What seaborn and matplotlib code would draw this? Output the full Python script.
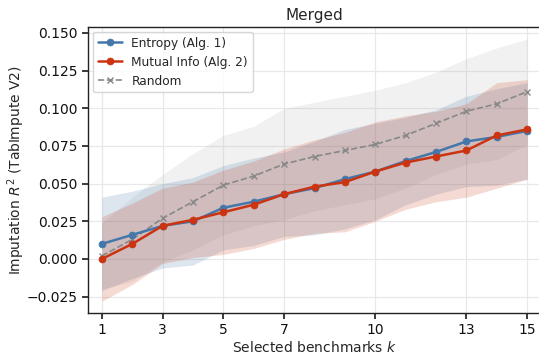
import numpy as np
import pandas as pd
import seaborn as sns
import matplotlib
matplotlib.use("Agg")
import matplotlib.pyplot as plt

# values
k = [1, 2, 3, 4, 5, 6, 7, 8, 9, 10, 11, 12, 13, 14, 15]

entropy_mean = [0.010, 0.016, 0.022, 0.025, 0.034, 0.038, 0.043, 0.047, 0.053, 0.058, 0.065, 0.071, 0.078, 0.081, 0.085]
entropy_std = [0.031, 0.029, 0.028, 0.029, 0.028, 0.029, 0.028, 0.031, 0.033, 0.032, 0.029, 0.028, 0.030, 0.032, 0.032]

mi_mean = [0.000, 0.010, 0.022, 0.026, 0.031, 0.036, 0.043, 0.048, 0.051, 0.058, 0.064, 0.068, 0.072, 0.082, 0.086]
mi_std = [0.028, 0.027, 0.025, 0.025, 0.028, 0.029, 0.030, 0.031, 0.033, 0.033, 0.031, 0.030, 0.031, 0.035, 0.033]

random_mean = [0.002, 0.013, 0.027, 0.038, 0.049, 0.055, 0.063, 0.068, 0.072, 0.076, 0.082, 0.090, 0.098, 0.103, 0.111]
random_std = [0.022, 0.028, 0.029, 0.032, 0.033, 0.033, 0.037, 0.036, 0.036, 0.036, 0.035, 0.034, 0.035, 0.037, 0.035]

xticks = [1, 3, 5, 7, 10, 13, 15]
yticks = [-0.025, 0.0, 0.025, 0.05, 0.075, 0.1, 0.125, 0.15]

sns.set_theme(style="ticks", rc={
    "axes.grid": True,
    "grid.color": "#e8e8e8",
    "grid.linewidth": 0.9,
    "axes.edgecolor": "#222222",
    "axes.linewidth": 1.0,
    "xtick.major.pad": 3.5,
    "ytick.major.pad": 3.5,
})
plt.rcParams["font.family"] = ["DejaVu Sans"]

df = pd.DataFrame({
    "k": k * 3,
    "mean": entropy_mean + mi_mean + random_mean,
    "std": entropy_std + mi_std + random_std,
    "method": ["Entropy (Alg. 1)"] * 15 + ["Mutual Info (Alg. 2)"] * 15 + ["Random"] * 15,
})

colors = {"Entropy (Alg. 1)": "#4477AA", "Mutual Info (Alg. 2)": "#CC3311", "Random": "#888888"}
band_alpha = {"Entropy (Alg. 1)": 0.18, "Mutual Info (Alg. 2)": 0.18, "Random": 0.16}

fig = plt.figure(figsize=(5.39, 3.54), dpi=100)
ax = fig.add_axes([0.163, 0.116, 0.841, 0.808])

for name in ["Random", "Entropy (Alg. 1)", "Mutual Info (Alg. 2)"]:
    sub = df[df["method"] == name]
    c = "#aaaaaa" if name == "Random" else colors[name]
    ax.fill_between(sub["k"], sub["mean"] - sub["std"], sub["mean"] + sub["std"],
                    color=c, alpha=band_alpha[name], linewidth=0)

sns.lineplot(data=df[df["method"] == "Entropy (Alg. 1)"], x="k", y="mean", ax=ax,
             color=colors["Entropy (Alg. 1)"], marker="o", markersize=5,
             markeredgecolor=colors["Entropy (Alg. 1)"], markeredgewidth=0.5,
             linewidth=1.8, label="Entropy (Alg. 1)", zorder=4)
sns.lineplot(data=df[df["method"] == "Mutual Info (Alg. 2)"], x="k", y="mean", ax=ax,
             color=colors["Mutual Info (Alg. 2)"], marker="o", markersize=5,
             markeredgecolor=colors["Mutual Info (Alg. 2)"], markeredgewidth=0.5,
             linewidth=1.8, label="Mutual Info (Alg. 2)", zorder=5)
sns.lineplot(data=df[df["method"] == "Random"], x="k", y="mean", ax=ax,
             color=colors["Random"], marker="x", markersize=4,
             markeredgecolor=colors["Random"], markeredgewidth=1.0,
             linewidth=1.2, linestyle="--", label="Random", zorder=3)

ax.set_xlim(0.54, 15.46)
ax.set_ylim(-0.0358, 0.154)
ax.set_xticks(xticks)
ax.set_yticks(yticks)
ax.set_yticklabels([("\u2212" if v < 0 else "") + f"{abs(v):.3f}" for v in yticks])
ax.tick_params(labelsize=10, length=4, color="#222222", labelcolor="#111111")

ax.set_title("Merged", fontsize=11, pad=5)
ax.set_xlabel("Selected benchmarks $k$", fontsize=10, labelpad=2)
ax.set_ylabel("Imputation $R^2$ (TabImpute V2)", fontsize=10)
ax.yaxis.set_label_coords(-0.135, 0.5)

leg = ax.legend(loc="upper left", fontsize=8.7, frameon=True, handlelength=2.0,
                borderaxespad=0.4, fancybox=True)
leg.get_frame().set_edgecolor("#cccccc")

fig.savefig("out.png", dpi=100)
